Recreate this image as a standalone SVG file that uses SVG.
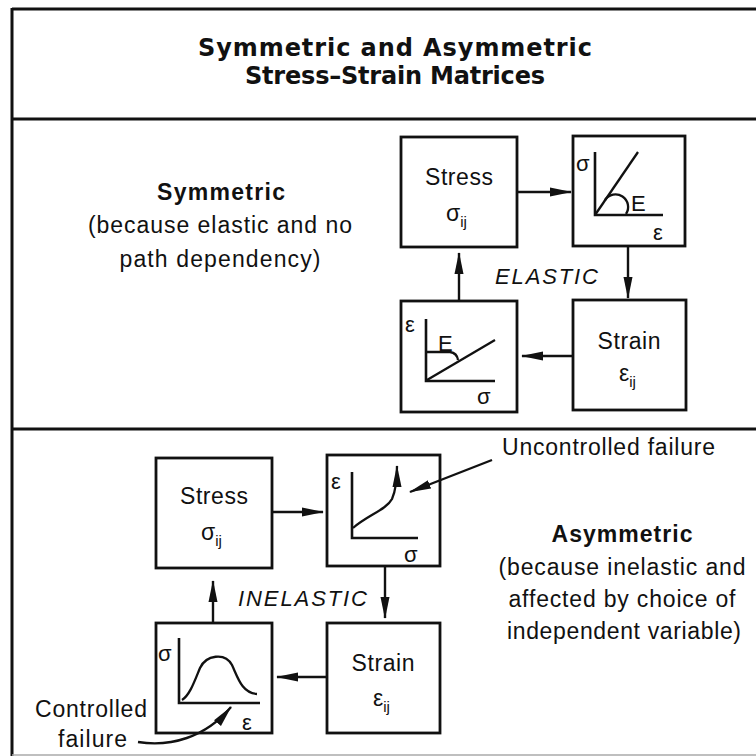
<svg xmlns="http://www.w3.org/2000/svg" width="756" height="756" viewBox="0 0 756 756">
<style>
.frame{stroke:#111;stroke-width:3;fill:none}
.box{fill:#fff;stroke:#111;stroke-width:2.8}
.axis{stroke:#111;stroke-width:2.6;fill:none}
.curve{stroke:#111;stroke-width:2.3;fill:none}
.conn{stroke:#111;stroke-width:2.4;fill:none}
text{font-family:"Liberation Sans",Arial,sans-serif;fill:#111}
.t{font-size:23px}
.title{font-family:"DejaVu Sans","Liberation Sans",sans-serif;font-weight:bold;font-size:24px;text-anchor:middle}
.b{font-weight:bold;font-size:23px;text-anchor:middle}
.c{font-size:23px;text-anchor:middle}
.it{font-style:italic;font-size:22px}
.g{font-size:22px}
.sub{font-size:15px}
</style>
<defs>
<marker id="ah" markerUnits="userSpaceOnUse" markerWidth="22" markerHeight="10" viewBox="0 0 22 10" refX="21" refY="5" orient="auto">
<path d="M0,0.5 L22,5 L0,9.5 z" fill="#111"/>
</marker>
</defs>
<rect width="756" height="756" fill="#fff"/>
<g id="frame">
<line class="frame" x1="12" y1="9" x2="756" y2="9"/>
<line class="frame" x1="12" y1="8" x2="12" y2="756"/>
<line class="frame" x1="12" y1="119" x2="756" y2="119"/>
<line class="frame" x1="12" y1="429" x2="756" y2="429"/>
<line x1="12" y1="755" x2="756" y2="755" stroke="#aaa" stroke-width="1.5"/>
</g>
<g id="title">
<text class="title" x="395" y="56" textLength="394">Symmetric and Asymmetric</text>
<text class="title" x="395" y="84" textLength="300">Stress–Strain Matrices</text>
</g>
<g id="symmetric-label">
<text class="b" x="221" y="200" textLength="128">Symmetric</text>
<text class="c" x="220" y="233" textLength="264">(because elastic and no</text>
<text class="c" x="220" y="267" textLength="201">path dependency)</text>
</g>
<g id="top-stress">
<rect class="box" x="401" y="137" width="116" height="110"/>
<text class="t" x="459" y="185" text-anchor="middle" textLength="68">Stress</text>
<text class="t" x="446" y="221">σ<tspan class="sub" dy="6">ij</tspan></text>
</g>
<g id="top-graph-stress-strain">
<rect class="box" x="573" y="136" width="112" height="110"/>
<path class="axis" d="M595,152 L595,215 L663,215"/>
<path class="curve" d="M595,215 L638,152"/>
<path class="curve" d="M605,200 A12,12 0 0 1 626,214"/>
<text class="g" x="631" y="211">E</text>
<text class="g" x="576" y="171">σ</text>
<text class="g" x="653" y="240">ε</text>
</g>
<g id="top-strain">
<rect class="box" x="573" y="300" width="113" height="110"/>
<text class="t" x="629" y="349" text-anchor="middle" textLength="63">Strain</text>
<text class="t" x="619" y="381">ε<tspan class="sub" dy="6">ij</tspan></text>
</g>
<g id="top-graph-strain-stress">
<rect class="box" x="401" y="301" width="116" height="111"/>
<path class="axis" d="M426,319 L426,381 L495,381"/>
<path class="curve" d="M427,380 L495,340"/>
<path class="curve" d="M426,352 L450,352 Q457,353 458,360"/>
<text class="g" x="405" y="332">ε</text>
<text class="g" x="438" y="351">E</text>
<text class="g" x="477" y="404">σ</text>
</g>
<g id="elastic-label">
<text class="it" x="495" y="284" textLength="103">ELASTIC</text>
</g>
<g id="asymmetric-label">
<text class="b" x="622" y="542" textLength="141">Asymmetric</text>
<text class="c" x="622" y="575" textLength="247">(because inelastic and</text>
<text class="c" x="622" y="607" textLength="227">affected by choice of</text>
<text class="c" x="624" y="639" textLength="234">independent variable)</text>
</g>
<g id="bottom-stress">
<rect class="box" x="156" y="458" width="116" height="110"/>
<text class="t" x="214" y="504" text-anchor="middle" textLength="68">Stress</text>
<text class="t" x="201" y="540">σ<tspan class="sub" dy="6">ij</tspan></text>
</g>
<g id="bottom-graph-strain-stress">
<rect class="box" x="327" y="455" width="113" height="111"/>
<path class="axis" d="M352,472 L352,538 L418,538"/>
<path class="curve" d="M353,528 C368,515 386,510 392,499 C396,490 397,480 397,466" marker-end="url(#ah)"/>
<text class="g" x="331" y="489">ε</text>
<text class="g" x="404" y="562">σ</text>
</g>
<g id="bottom-strain">
<rect class="box" x="327" y="623" width="113" height="110"/>
<text class="t" x="383" y="671" text-anchor="middle" textLength="63">Strain</text>
<text class="t" x="373" y="706">ε<tspan class="sub" dy="6">ij</tspan></text>
</g>
<g id="bottom-graph-stress-strain">
<rect class="box" x="156" y="623" width="116" height="110"/>
<path class="axis" d="M179,638 L179,703 L260,703"/>
<path class="curve" d="M182,700 C190,695 195,680 200,668 C206,655 225,652 232,665 C238,678 242,693 257,694"/>
<text class="g" x="158" y="661">σ</text>
<text class="g" x="242" y="730">ε</text>
</g>
<g id="inelastic-label">
<text class="it" x="238" y="606" textLength="129">INELASTIC</text>
</g>
<g id="uncontrolled-failure">
<text class="t" x="502" y="455" textLength="213">Uncontrolled failure</text>
</g>
<g id="controlled-failure">
<text class="t" x="35" y="717" textLength="112">Controlled</text>
<text class="t" x="58" y="747" textLength="69">failure</text>
</g>
<g id="connectors">
<line class="conn" x1="517" y1="192" x2="571" y2="192" marker-end="url(#ah)"/>
<line class="conn" x1="628" y1="246" x2="628" y2="298" marker-end="url(#ah)"/>
<line class="conn" x1="573" y1="356" x2="522" y2="356" marker-end="url(#ah)"/>
<line class="conn" x1="459" y1="301" x2="459" y2="253" marker-end="url(#ah)"/>
<line class="conn" x1="272" y1="512" x2="323" y2="512" marker-end="url(#ah)"/>
<line class="conn" x1="385" y1="566" x2="385" y2="618" marker-end="url(#ah)"/>
<line class="conn" x1="327" y1="677" x2="277" y2="677" marker-end="url(#ah)"/>
<line class="conn" x1="213" y1="623" x2="213" y2="581" marker-end="url(#ah)"/>
<line class="conn" x1="492" y1="460" x2="410" y2="492" marker-end="url(#ah)"/>
<path class="conn" d="M138,742 C170,747 205,738 231,707" marker-end="url(#ah)"/>
</g>
</svg>
